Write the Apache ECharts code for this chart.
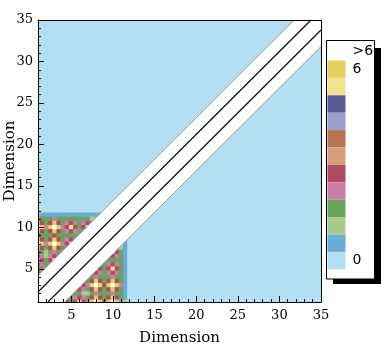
<!DOCTYPE html>
<html><head><meta charset="utf-8">
<script src="https://cdn.jsdelivr.net/npm/echarts@6/dist/echarts.min.js"></script>
<style>html,body{margin:0;padding:0;background:#fff}#c{width:382px;height:346px}</style>
</head><body><div id="c"></div>
<script>
// Contour levels on a 0.5-unit grid (x = 1..12, y = 12 down to 1).
// Codes: '0'..'9','a','b' = level band index, 'c' = above 6. [ch, n] = ch repeated n times.
const gridX0 = 1, gridY0 = 1, gridStep = 0.5;
const levelRows = [
  [['0',17], ['c',6]],
  ['2', ['1',15], ['c',7]],
  ['433343333333322', ['c',8]],
  ['b535b534543454', ['c',9]],
  ['cb4bcb45a535a', ['c',10]],
  ['b535b5345434', ['c',11]],
  ['53335333334', ['c',11], '0'],
  ['b535b53454', ['c',11], '10'],
  ['cb4bcb45a', ['c',11], '210'],
  ['b535b534', ['c',11], '4210'],
  ['4323434', ['c',11], 'a5310'],
  ['542454', ['c',11], '454310'],
  ['a535a', ['c',11], '4333310'],
  ['5434', ['c',11], '43454310'],
  ['334', ['c',11], 'a535a5310'],
  ['54', ['c',11], '4543454310'],
  ['a', ['c',11], '43433343310'],
  [['c',11], '435b535b5310'],
  [['c',10], 'a54bcb5bcb410'],
  [['c',9], '45435b535b5310'],
  [['c',8], '433223433343310'],
  [['c',7], '4345435b535b5310'],
  [['c',6], 'a535a54bcb5bcb420']
];
const levelCodes = '0123456789abc';
const levelBounds = [0, 0.5, 1, 1.5, 2, 2.5, 3, 3.5, 4, 4.5, 5, 5.5, 6];
const levelColors = ['#b2e0f2', '#69acd5', '#a7cb8b', '#6aa35e', '#cb7ea6', '#b04b66',
                     '#d6a07a', '#b8764e', '#9b9dcc', '#565a97', '#f1e38a', '#e3d15b'];
const overValue = 7;
const overColor = '#ffffff';
const legendLabels = {0: '0', 11: '6'};
const xTicks = [5, 10, 15, 20, 25, 30, 35];
const yTicks = [5, 10, 15, 20, 25, 30, 35];
const axisMin = 1, axisMax = 35;
// diagonal band (values above 6) and the two dark lines inside it
const bandOutline = [[1, 4.2], [31.8, 35], [35, 35], [35, 31.8], [4.2, 1], [1, 1]];
const bandEdgeUpper = [[1, 4.2], [31.8, 35]];
const bandEdgeLower = [[4.2, 1], [35, 31.8]];
const diagLineUpper = [[1, 2.2], [33.8, 35]];
const diagLineLower = [[2.2, 1], [35, 33.8]];

function expandRow(segs) {
  let s = '';
  segs.forEach(g => { s += Array.isArray(g) ? g[0].repeat(g[1]) : g; });
  return s;
}
const cellData = [];
levelRows.forEach((segs, r) => {
  const row = expandRow(segs);
  const y = gridY0 + (levelRows.length - 1 - r) * gridStep;
  for (let i = 0; i < row.length; i++) {
    const k = levelCodes.indexOf(row[i]);
    const v = k < levelBounds.length - 1 ? (levelBounds[k] + levelBounds[k + 1]) / 2 : overValue;
    cellData.push([gridX0 + i * gridStep, y, v]);
  }
});

const pieces = [];
for (let k = 0; k < levelBounds.length - 1; k++) {
  pieces.push({gte: levelBounds[k], lt: levelBounds[k + 1], color: levelColors[k],
               label: legendLabels[k] !== undefined ? legendLabels[k] : ' '});
}
pieces.push({gt: levelBounds[levelBounds.length - 1], color: overColor, label: '>6'});

const serif = 'DejaVu Serif';
const chart = echarts.init(document.getElementById('c'), null, {renderer: 'canvas'});
const half = gridStep / 2;

function mainX(pos, name) {
  return {
    type: 'value', min: axisMin, max: axisMax, splitNumber: 7, position: pos, z: 10,
    axisLine: {show: true, onZero: false, lineStyle: {color: '#000', width: 1}},
    axisTick: {show: true, inside: true, length: 6, customValues: xTicks, lineStyle: {color: '#000', width: 1}},
    axisLabel: {show: true, customValues: xTicks, color: '#000', fontSize: 13, fontFamily: serif, margin: 7},
    splitLine: {show: false},
    name: name, nameLocation: 'middle', nameGap: 29, nameMoveOverlap: false,
    nameTextStyle: {color: '#000', fontSize: 15, fontFamily: serif}
  };
}
function minorAxis(pos) {
  return {
    type: 'value', min: axisMin, max: axisMax, interval: 1, position: pos, z: 10,
    axisLine: {show: false}, axisLabel: {show: false}, splitLine: {show: false},
    axisTick: {show: true, inside: true, length: 3, lineStyle: {color: '#000', width: 1}}
  };
}
function frameAxis(pos) {
  return {
    type: 'value', min: axisMin, max: axisMax, position: pos, z: 10,
    axisLine: {show: true, onZero: false, lineStyle: {color: '#000', width: 1}},
    axisTick: {show: false}, axisLabel: {show: false}, splitLine: {show: false}
  };
}

const option = {
  animation: false,
  grid: {left: 38, right: 61, top: 20, bottom: 44, show: true, containLabel: false,
         outerBoundsMode: 'none',
         backgroundColor: levelColors[0], borderWidth: 0},
  xAxis: [mainX('bottom', 'Dimension'), minorAxis('bottom'), frameAxis('top')],
  yAxis: [
    Object.assign(mainX('left', 'Dimension'), {
      axisTick: {show: true, inside: true, length: 6, customValues: yTicks, lineStyle: {color: '#000', width: 1}},
      axisLabel: {show: true, customValues: yTicks, color: '#000', fontSize: 13, fontFamily: serif, margin: 5},
      nameGap: 20
    }),
    minorAxis('left'), frameAxis('right')
  ],
  visualMap: {
    type: 'piecewise', seriesIndex: 0, dimension: 2, pieces: pieces,
    orient: 'vertical', align: 'left', left: 326, top: 40, itemWidth: 18, itemHeight: 17.4, itemGap: 0,
    itemSymbol: 'rect', textGap: 7, selectedMode: false, hoverLink: false,
    padding: [2.6, 1.4, 9.7, 1], backgroundColor: '#fff', borderColor: '#000', borderWidth: 1, z: 10,
    textStyle: {color: '#000', fontSize: 14, fontFamily: 'DejaVu Sans'}
  },
  graphic: [{type: 'rect', z: 1, shape: {x: 333, y: 48, width: 48, height: 236}, style: {fill: '#000'}}],
  series: [
    {
      type: 'custom', name: 'levels', data: cellData, z: 2, silent: true,
      encode: {x: 0, y: 1},
      renderItem: function (params, api) {
        const x = api.value(0), y = api.value(1);
        const p0 = api.coord([x - half, y + half]);
        const p1 = api.coord([x + half, y - half]);
        const shape = echarts.graphic.clipRectByRect(
          {x: p0[0] - 0.3, y: p0[1] - 0.3, width: p1[0] - p0[0] + 0.6, height: p1[1] - p0[1] + 0.6},
          {x: params.coordSys.x, y: params.coordSys.y, width: params.coordSys.width, height: params.coordSys.height});
        return shape && {type: 'rect', shape: shape, style: {fill: api.visual('color')}};
      }
    },
    {
      type: 'custom', name: 'band', data: [[bandOutline[0][0], bandOutline[0][1]]], z: 3, silent: true,
      renderItem: function (params, api) {
        return {type: 'polygon', shape: {points: bandOutline.map(p => api.coord(p))},
                style: {fill: overColor, stroke: null}};
      }
    },
    {type: 'line', data: bandEdgeUpper, z: 4, symbol: 'none', silent: true, clip: true,
     lineStyle: {color: '#8a8a8a', width: 0.8}},
    {type: 'line', data: bandEdgeLower, z: 4, symbol: 'none', silent: true, clip: true,
     lineStyle: {color: '#8a8a8a', width: 0.8}},
    {type: 'line', data: diagLineUpper, z: 4, symbol: 'none', silent: true, clip: true,
     lineStyle: {color: '#111', width: 1.3}},
    {type: 'line', data: diagLineLower, z: 4, symbol: 'none', silent: true, clip: true,
     lineStyle: {color: '#111', width: 1.3}}
  ]
};
chart.setOption(option);
</script>
</body></html>
